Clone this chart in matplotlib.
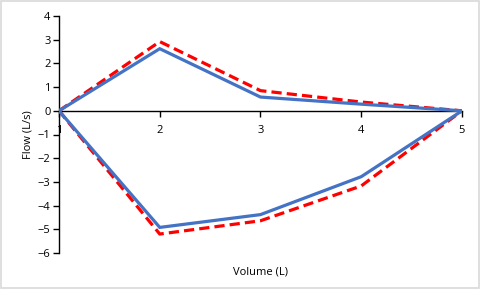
import matplotlib
matplotlib.use("Agg")
import matplotlib.pyplot as plt
from matplotlib.patches import Rectangle

plt.rcParams['font.family'] = ['Open Sans', 'DejaVu Sans']

volume = [1, 2, 3, 4, 5, 4, 3, 2, 1]
flow_blue = [0, 2.62, 0.58, 0.28, 0, -2.78, -4.38, -4.92, 0]
flow_red = [0, 2.92, 0.85, 0.37, 0, -3.17, -4.64, -5.2, 0]
x_ticks = [1, 2, 3, 4, 5]
y_ticks = [-6, -5, -4, -3, -2, -1, 0, 1, 2, 3, 4]

fig = plt.figure(figsize=(4.81, 2.89), dpi=100)
ax = fig.add_axes([59/481, 1-253/289, (462-59)/481, (253-16)/289])

ax.plot(volume, flow_red, color='#FF0000', lw=2.3, ls=(0, (3.2, 1.6)), zorder=2)
ax.plot(volume, flow_blue, color='#4472C4', lw=2.3, zorder=3, solid_joinstyle='miter')

ax.set_xlim(1, 5)
ax.set_ylim(-6, 4)
ax.set_xticks(x_ticks)
ax.set_yticks(y_ticks)
ax.spines['top'].set_visible(False)
ax.spines['right'].set_visible(False)
ax.spines['bottom'].set_position(('data', 0))
for s in ('left', 'bottom'):
    ax.spines[s].set_color('black')
    ax.spines[s].set_linewidth(1.0)
ax.tick_params(axis='both', labelsize=8, length=4, width=1, color='black', pad=2)
ax.tick_params(axis='x', pad=6)
for lbl in ax.get_xticklabels():
    lbl.set_zorder(5)
ax.set_xlabel('Volume (L)', fontsize=8, labelpad=0)
ax.xaxis.set_label_coords(0.5, -0.055)
ax.set_ylabel('Flow (L/s)', fontsize=8, labelpad=3)

fig.patches.append(Rectangle((0.002, 0.003), 0.994, 0.994, transform=fig.transFigure,
                             fill=False, edgecolor='#D9D9D9', lw=1.2))

fig.savefig('out.png', dpi=100)
